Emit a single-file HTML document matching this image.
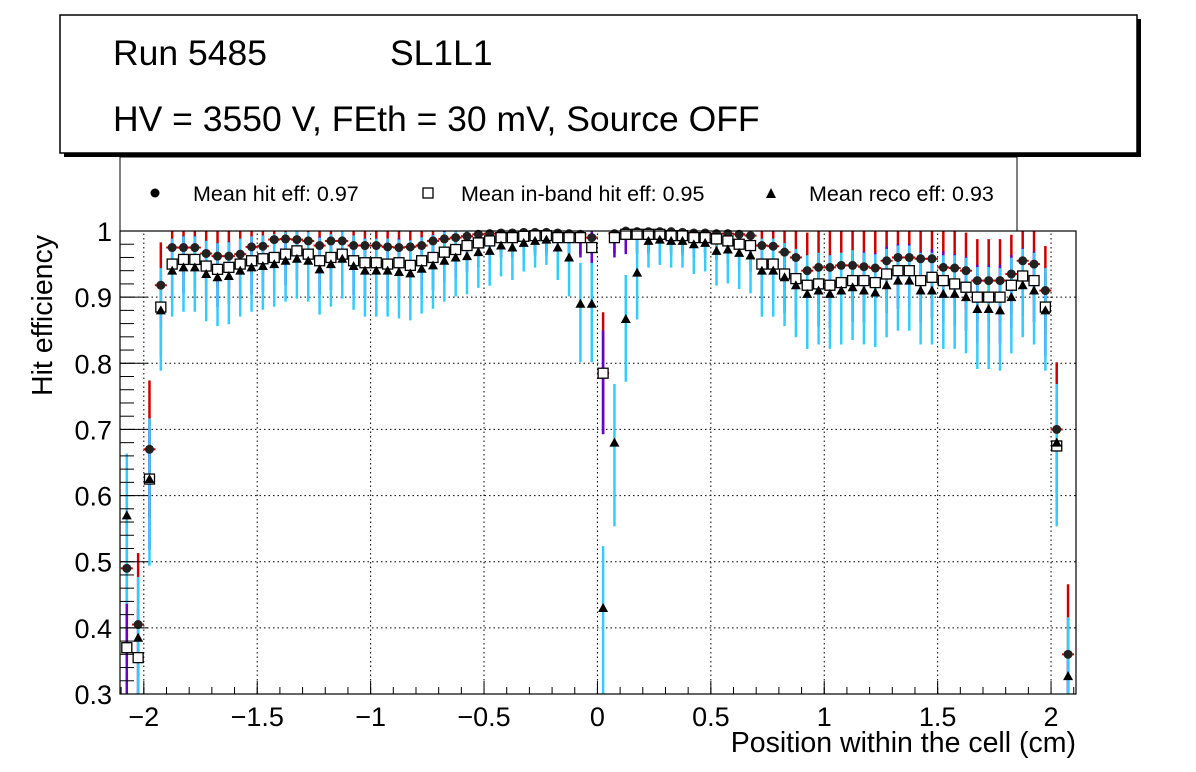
<!DOCTYPE html>
<html><head><meta charset="utf-8"><style>
body{margin:0;background:#fff;}
svg{display:block;font-family:"Liberation Sans",Arial,sans-serif;}
</style></head><body>
<svg id="c" width="1196" height="772" viewBox="0 0 1196 772">
<rect x="64" y="19" width="1077" height="138" fill="#000"/>
<rect x="60" y="15" width="1077" height="138" fill="#fff" stroke="#000" stroke-width="1.5"/>
<text x="113" y="65" font-size="35.5">Run 5485</text>
<text x="390" y="65" font-size="35.5">SL1L1</text>
<text x="113" y="131" font-size="35.5">HV = 3550 V, FEth = 30 mV, Source OFF</text>
<rect x="120" y="157" width="897" height="74" fill="#fff" stroke="#000" stroke-width="1"/>
<g><circle cx="155" cy="193" r="4.5" fill="#000"/><text x="193" y="201" font-size="21.5">Mean hit  eff: 0.97</text></g>
<g><rect x="423" y="188" width="10" height="10" fill="#fff" stroke="#000" stroke-width="1.3"/><text x="461" y="201" font-size="21.5">Mean in-band hit eff: 0.95</text></g>
<g><polygon points="771,188 776,198 766,198" fill="#000"/><text x="809" y="201" font-size="21.5">Mean reco eff: 0.93</text></g>
<g id="grid"></g>
<g id="marks"></g>
<rect x="120" y="231" width="956" height="463" fill="none" stroke="#000" stroke-width="1.2"/>
<g id="axes"></g>
<text x="1076" y="752" font-size="28.5" text-anchor="end">Position within the cell (cm)</text>
<text transform="translate(52,396) rotate(-90)" font-size="28.5">Hit efficiency</text>
</svg>
<script>
const xTicks=[-2,-1.5,-1,-0.5,0,0.5,1,1.5,2];
const xTickLabels=["\u22122","\u22121.5","\u22121","\u22120.5","0","0.5","1","1.5","2"];
const yTicks=[0.3,0.4,0.5,0.6,0.7,0.8,0.9,1];
const yTickLabels=["0.3","0.4","0.5","0.6","0.7","0.8","0.9","1"];
const hitEff=[.49,.405,.67,.918,.975,.975,.975,.966,.962,.962,.965,.976,.977,.987,.988,.987,.985,.978,.985,.985,.978,.978,.978,.976,.975,.976,.978,.985,.988,.99,.992,.995,.996,.997,.997,.998,.998,.998,.997,.996,.995,.99,.785,.996,1,.999,.999,.999,.999,.998,.997,.997,.996,.996,.995,.993,.978,.977,.968,.96,.94,.945,.945,.948,.948,.946,.944,.955,.96,.96,.958,.958,.945,.944,.94,.925,.925,.925,.935,.955,.95,.91,.70,.36];
const inbandEff=[.37,.355,.625,.885,.95,.957,.957,.947,.942,.945,.95,.955,.958,.96,.965,.97,.965,.955,.96,.965,.955,.952,.952,.95,.952,.948,.955,.96,.968,.972,.978,.982,.985,.99,.99,.992,.993,.993,.99,.99,.99,.975,.785,.99,.995,.995,.995,.995,.993,.993,.99,.99,.988,.985,.98,.978,.95,.95,.935,.928,.918,.92,.918,.922,.925,.925,.922,.935,.94,.94,.925,.93,.925,.92,.915,.9,.9,.9,.918,.932,.925,.885,.675,.28];
const recoEff=[.57,.385,.625,.88,.94,.945,.945,.935,.93,.932,.94,.945,.947,.95,.955,.958,.955,.942,.95,.958,.947,.94,.94,.94,.938,.936,.943,.948,.955,.96,.962,.968,.97,.978,.975,.982,.985,.987,.975,.96,.89,.89,.43,.68,.867,.937,.985,.987,.985,.985,.98,.982,.97,.972,.967,.963,.94,.94,.93,.918,.905,.91,.905,.91,.915,.91,.907,.918,.925,.925,.91,.91,.905,.905,.9,.882,.882,.88,.9,.918,.91,.88,.68,.327];
const binStart=-2.075, binWidth=0.05;
const X0=120,X1=1076,Y0=694,Y1=231,xmin=-2.105,xmax=2.11,ymin=0.3,ymax=1;
const xs=v=>X0+(v-xmin)/(xmax-xmin)*(X1-X0);
const ys=v=>Y0-(v-ymin)/(ymax-ymin)*(Y0-Y1);
const NS="http://www.w3.org/2000/svg";
function mk(tag,attrs,parent){const e=document.createElementNS(NS,tag);for(const k in attrs)e.setAttribute(k,attrs[k]);parent.appendChild(e);return e;}
const grid=document.getElementById('grid'),axes=document.getElementById('axes'),marks=document.getElementById('marks');
xTicks.forEach((t,i)=>{
 const g=mk('line',{x1:xs(t),x2:xs(t),y1:Y0,y2:Y1,stroke:'#000','stroke-dasharray':'1.5,3','stroke-width':1},grid);
 
 
 mk('line',{x1:xs(t),x2:xs(t),y1:Y0,y2:Y0-13,stroke:'#000','stroke-width':1},axes);
 const l=mk('text',{x:xs(t),y:726,'font-size':27,'text-anchor':'middle'},axes);
 l.textContent=xTickLabels[i];
 
 
});
for(let v=-2.1;v<=2.1001;v+=0.1){mk('line',{x1:xs(v),x2:xs(v),y1:Y0,y2:Y0-7,stroke:'#000','stroke-width':1},axes);}
yTicks.forEach((t,i)=>{
 if(t>ymin&&t<ymax){const g=mk('line',{x1:X0,x2:X1,y1:ys(t),y2:ys(t),stroke:'#000','stroke-dasharray':'1.5,3','stroke-width':1},grid);
 
 }
 mk('line',{x1:X0,x2:X0+28,y1:ys(t),y2:ys(t),stroke:'#000','stroke-width':1},axes);
 const l=mk('text',{x:112,y:ys(t)+10,'font-size':27,'text-anchor':'end'},axes);
 l.textContent=yTickLabels[i];
 
 
});
for(let v=0.3;v<=1.0001;v+=0.02){mk('line',{x1:X0,x2:X0+14,y1:ys(v),y2:ys(v),stroke:'#000','stroke-width':1},axes);}
function err(p,k){return Math.min(0.35,k*Math.sqrt(Math.max(p*(1-p),0.01))+0.01);}
function clampY(v){return Math.max(Y1,Math.min(Y0,ys(v)));}
hitEff.forEach((p,i)=>{const cx=xs(binStart+i*binWidth);const e=err(p,0.2);
 const l=mk('line',{x1:cx,x2:cx,y1:clampY(p+e),y2:clampY(p-e),stroke:'#cc0000','stroke-width':2.5},marks);
 
 });
inbandEff.forEach((p,i)=>{const cx=xs(binStart+i*binWidth);const e=err(p,0.2);
 const l=mk('line',{x1:cx,x2:cx,y1:clampY(p+e*0.7),y2:clampY(p-e),stroke:'#6600cc','stroke-width':2.5},marks);
 
 });
recoEff.forEach((p,i)=>{const cx=xs(binStart+i*binWidth);const e=err(p,0.25);
 const l=mk('line',{x1:cx,x2:cx,y1:clampY(p+e*0.7),y2:clampY(p-e),stroke:'#33ccff','stroke-width':2.5},marks);
 
 });
hitEff.forEach((p,i)=>{if(p<ymin)return;const cx=xs(binStart+i*binWidth);
 mk('line',{x1:cx-6,x2:cx+6,y1:ys(p),y2:ys(p),stroke:'#cc0000','stroke-width':2},marks);
 const c=mk('circle',{cx:cx,cy:ys(p),r:4.5,fill:'#222'},marks);
 
 });
inbandEff.forEach((p,i)=>{if(p<ymin)return;const cx=xs(binStart+i*binWidth);
 const r=mk('rect',{x:cx-5,y:ys(p)-5,width:10,height:10,fill:'#fff',stroke:'#000','stroke-width':1.3},marks);
 
 });
recoEff.forEach((p,i)=>{if(p<ymin)return;const cx=xs(binStart+i*binWidth),cy=ys(p);
 const t=mk('polygon',{points:`${cx},${cy-5} ${cx+5},${cy+4} ${cx-5},${cy+4}`,fill:'#000'},marks);
 
 });
</script>
</body></html>
